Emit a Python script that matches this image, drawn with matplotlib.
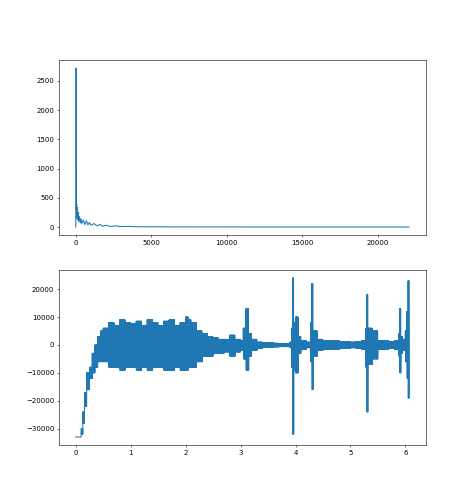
import numpy as np
import matplotlib
matplotlib.use("Agg")
import matplotlib.pyplot as plt

# spectrum (frequency Hz, magnitude)
freq = [0, 20, 40, 60, 80, 100, 130, 160, 200, 250, 300, 350, 400, 500, 600, 700, 800, 900,
        1000, 1200, 1400, 1600, 1800, 2000, 2300, 2600, 3000, 3500, 4000, 5000, 6000, 8000,
        10000, 12000, 14000, 16000, 18000, 20000, 22050]
mag = [0, 2720, 300, 400, 150, 330, 120, 250, 90, 180, 70, 140, 60, 120, 40, 110, 35, 80,
       30, 60, 20, 45, 15, 30, 10, 20, 8, 12, 5, 4, 3, 2, 2, 1, 1, 1, 1, 1, 0]

# waveform envelope: time (s), upper value, lower value
t_env = [0.0, 0.05, 0.08, 0.1, 0.13, 0.16, 0.2, 0.25, 0.3, 0.35, 0.4, 0.45, 0.5, 0.6, 0.7,
         0.8, 0.9, 1.0, 1.1, 1.2, 1.3, 1.4, 1.5, 1.6, 1.7, 1.8, 1.9, 2.0, 2.05, 2.1, 2.2,
         2.3, 2.4, 2.5, 2.6, 2.7, 2.8, 2.9, 3.0, 3.05, 3.1, 3.15, 3.2, 3.3, 3.4, 3.5, 3.6,
         3.7, 3.8, 3.9, 3.93, 3.95, 3.97, 4.0, 4.05, 4.1, 4.2, 4.28, 4.3, 4.32, 4.4, 4.5,
         4.6, 4.7, 4.8, 4.9, 5.0, 5.1, 5.2, 5.28, 5.3, 5.32, 5.4, 5.5, 5.6, 5.7, 5.8, 5.88,
         5.9, 5.92, 5.95, 6.0, 6.03, 6.05]
hi = [-33000, -33000, -33000, -30000, -24000, -17000, -10000, -8000, -3000, 0, 3000, 5000,
      6000, 8000, 7000, 9000, 8000, 7500, 8500, 7000, 9000, 8000, 7000, 8500, 9000, 7000,
      8000, 10000, 9000, 8000, 5000, 4000, 3000, 2500, 2000, 2000, 3500, 2000, 1500, 6000,
      13000, 4000, 2000, 1000, 800, 800, 600, 500, 500, 1000, 6000, 24000, 8000, 10000,
      3000, 1500, 1000, 8000, 22000, 5000, 2000, 1500, 1500, 1500, 1200, 1200, 1000, 1200,
      1500, 6000, 18000, 6000, 5000, 1500, 1500, 1200, 1500, 4000, 13000, 3000, 2000, 5000,
      12000, 23000]
lo = [-33000, -33000, -33000, -32000, -28000, -22000, -16000, -12000, -10000, -8000, -6000,
      -6000, -6000, -8000, -8000, -9000, -8000, -8000, -9000, -8000, -9000, -8000, -8000,
      -9000, -9000, -8000, -9000, -9000, -8000, -8000, -6000, -4000, -4000, -3000, -3000,
      -2500, -4000, -2500, -2000, -5000, -9000, -4000, -2000, -1200, -800, -800, -700, -600,
      -600, -1000, -8000, -32000, -9000, -10000, -3000, -1500, -1000, -6000, -16000, -4000,
      -2000, -1500, -1500, -1500, -1200, -1200, -1000, -1200, -1500, -8000, -24000, -7000,
      -5000, -1500, -1500, -1200, -1500, -4000, -10000, -3000, -2000, -6000, -12000, -19000]

# interleave upper / lower readings into a zig-zag trace
t_env = np.array(t_env)
steps = np.diff(t_env, append=t_env[-1] + 0.02)
t_wave = []
y_wave = []
for t, dt, h, l in zip(t_env, steps, hi, lo):
    n = max(int(dt / 0.006), 1)
    for k in range(n):
        t_wave += [t + dt * k / n, t + dt * (k + 0.5) / n]
        y_wave += [h, l]

fig, (ax1, ax2) = plt.subplots(2, 1, figsize=(9.46, 10), dpi=50)
ax1.plot(freq, mag)
ax2.plot(t_wave, y_wave)
fig.savefig("out.png")
